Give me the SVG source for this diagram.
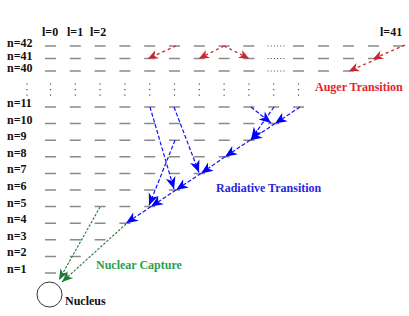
<svg xmlns="http://www.w3.org/2000/svg" width="409" height="316" viewBox="0 0 409 316">
<style>
.lv{stroke:#8a8a8a;stroke-width:1.5;fill:none}
.hd{stroke:#444;stroke-width:1.1;stroke-dasharray:1 2.2;fill:none}
.vd{stroke:#555;stroke-width:1.2;stroke-dasharray:1.2 4.3;fill:none}
.lab{font-family:"Liberation Serif",serif;font-weight:bold;font-size:12px;fill:#111}
.ttl{font-family:"Liberation Serif",serif;font-weight:bold;font-size:12px}
.red{stroke:#c8282e;stroke-width:1.3;stroke-dasharray:3 3;fill:none;marker-end:url(#ar)}
.blue{stroke:#1010ff;stroke-width:1.2;stroke-dasharray:4 2;fill:none;marker-end:url(#ab)}
.green{stroke:#1b7a3a;stroke-width:1.1;stroke-dasharray:2.5 1.5;fill:none;marker-end:url(#ag)}
</style>
<defs>
<marker id="ab" markerUnits="userSpaceOnUse" markerWidth="13" markerHeight="11" refX="12" refY="5" orient="auto" overflow="visible"><path d="M0,0 L12,5 L0,10 L3.5,5 z" fill="#0000ff"/></marker>
<marker id="ar" markerUnits="userSpaceOnUse" markerWidth="11" markerHeight="9" refX="10" refY="4.5" orient="auto" overflow="visible"><path d="M0,0 L10,4.5 L0,9 L3,4.5 z" fill="#c8282e"/></marker>
<marker id="ag" markerUnits="userSpaceOnUse" markerWidth="12" markerHeight="10" refX="11" refY="4.5" orient="auto" overflow="visible"><path d="M0,0 L11,4.5 L0,9 L3.2,4.5 z" fill="#1b7a3a"/></marker>
</defs>

<g id="labels-l">
<text class="lab" x="42" y="36">l=0</text>
<text class="lab" x="67" y="36">l=1</text>
<text class="lab" x="90" y="36">l=2</text>
<text class="lab" x="380" y="36">l=41</text>
</g>

<g id="labels-n">
<text class="lab" x="7" y="47">n=42</text>
<text class="lab" x="7" y="59.5">n=41</text>
<text class="lab" x="7" y="72">n=40</text>
<line class="vd" x1="27" y1="83.5" x2="27" y2="96"/>
<text class="lab" x="7" y="107">n=11</text>
<text class="lab" x="7" y="123.6">n=10</text>
<text class="lab" x="7" y="140.2">n=9</text>
<text class="lab" x="7" y="156.8">n=8</text>
<text class="lab" x="7" y="173.4">n=7</text>
<text class="lab" x="7" y="190">n=6</text>
<text class="lab" x="7" y="206.6">n=5</text>
<text class="lab" x="7" y="223.2">n=4</text>
<text class="lab" x="7" y="239.8">n=3</text>
<text class="lab" x="7" y="256.4">n=2</text>
<text class="lab" x="7" y="273">n=1</text>
</g>

<g id="levels-high">
<path class="lv" d="M45,46h11M69.8,46h11M94.6,46h11M119.4,46h11M144.2,46h11M169,46h11M193.8,46h11M218.6,46h11M243.4,46h11M293,46h11M318,46h11M343,46h11M368,46h11M393,46h11"/>
<path class="lv" d="M45,58.5h11M69.8,58.5h11M94.6,58.5h11M119.4,58.5h11M144.2,58.5h11M169,58.5h11M193.8,58.5h11M218.6,58.5h11M243.4,58.5h11M293,58.5h11M318,58.5h11M343,58.5h11M368,58.5h11"/>
<path class="lv" d="M45,71h11M69.8,71h11M94.6,71h11M119.4,71h11M144.2,71h11M169,71h11M193.8,71h11M218.6,71h11M243.4,71h11M293,71h11M318,71h11M343,71h11"/>
<path class="hd" d="M267.5,46h19M267.5,58.5h19M267.5,71h19"/>
</g>

<g id="vdots">
<path class="vd" d="M50.5,83.5v12.5M75.3,83.5v12.5M100.1,83.5v12.5M124.9,83.5v12.5M149.7,83.5v12.5M174.5,83.5v12.5M199.3,83.5v12.5M224.1,83.5v12.5M248.9,83.5v12.5M273.7,83.5v12.5M298.5,83.5v12.5"/>
</g>

<g id="levels-low">
<path class="lv" d="M45,107h11M69.8,107h11M94.6,107h11M119.4,107h11M144.2,107h11M169,107h11M193.8,107h11M218.6,107h11M243.4,107h11M268.2,107h11M293,107h11"/>
<path class="lv" d="M45,123.6h11M69.8,123.6h11M94.6,123.6h11M119.4,123.6h11M144.2,123.6h11M169,123.6h11M193.8,123.6h11M218.6,123.6h11M243.4,123.6h11M268.2,123.6h11"/>
<path class="lv" d="M45,140.2h11M69.8,140.2h11M94.6,140.2h11M119.4,140.2h11M144.2,140.2h11M169,140.2h11M193.8,140.2h11M218.6,140.2h11M243.4,140.2h11"/>
<path class="lv" d="M45,156.8h11M69.8,156.8h11M94.6,156.8h11M119.4,156.8h11M144.2,156.8h11M169,156.8h11M193.8,156.8h11M218.6,156.8h11"/>
<path class="lv" d="M45,173.4h11M69.8,173.4h11M94.6,173.4h11M119.4,173.4h11M144.2,173.4h11M169,173.4h11M193.8,173.4h11"/>
<path class="lv" d="M45,190h11M69.8,190h11M94.6,190h11M119.4,190h11M144.2,190h11M169,190h11"/>
<path class="lv" d="M45,206.6h11M69.8,206.6h11M94.6,206.6h11M119.4,206.6h11M144.2,206.6h11"/>
<path class="lv" d="M45,223.2h11M69.8,223.2h11M94.6,223.2h11M119.4,223.2h11"/>
<path class="lv" d="M45,239.8h11M69.8,239.8h11M94.6,239.8h11"/>
<path class="lv" d="M45,256.4h11M69.8,256.4h11"/>
<path class="lv" d="M45,273h11"/>
</g>

<g id="nucleus">
<circle cx="49.5" cy="294.5" r="12.5" fill="none" stroke="#333" stroke-width="1"/>
<text class="ttl" x="65" y="305" fill="#111">Nucleus</text>
</g>

<g id="connectors">
<line class="red" x1="176" y1="46" x2="148" y2="58.5"/>
<line class="red" x1="224" y1="46" x2="199" y2="58.5"/>
<line class="red" x1="224" y1="46" x2="249" y2="58.5"/>
<line class="red" x1="405" y1="45" x2="373" y2="59"/>
<line class="red" x1="377" y1="59" x2="349" y2="71"/>

<line class="blue" x1="300" y1="107" x2="275" y2="123.6"/>
<line class="blue" x1="275" y1="123.6" x2="250" y2="140.2"/>
<line class="blue" x1="250" y1="140.2" x2="225" y2="156.8"/>
<line class="blue" x1="225" y1="156.8" x2="201" y2="173.4"/>
<line class="blue" x1="201" y1="173.4" x2="176" y2="190"/>
<line class="blue" x1="176" y1="190" x2="151" y2="206.6"/>
<line class="blue" x1="151" y1="206.6" x2="126" y2="223.2"/>
<line class="blue" x1="251" y1="107" x2="271" y2="123"/>
<line class="blue" x1="274" y1="107" x2="251" y2="139.5"/>
<line class="blue" x1="150" y1="107" x2="174" y2="189"/>
<line class="blue" x1="174" y1="107" x2="199" y2="172.5"/>
<line class="blue" x1="175" y1="140.2" x2="149" y2="205.5"/>

<line class="green" x1="100" y1="207" x2="59" y2="280"/>
<line class="green" x1="126" y1="224" x2="62" y2="282"/>
</g>

<g id="titles">
<text class="ttl" x="315" y="91" fill="#e3242b">Auger Transition</text>
<text class="ttl" x="216" y="192" fill="#2626dd">Radiative Transition</text>
<text class="ttl" x="96" y="269" fill="#27a04e">Nuclear Capture</text>
</g>
</svg>
